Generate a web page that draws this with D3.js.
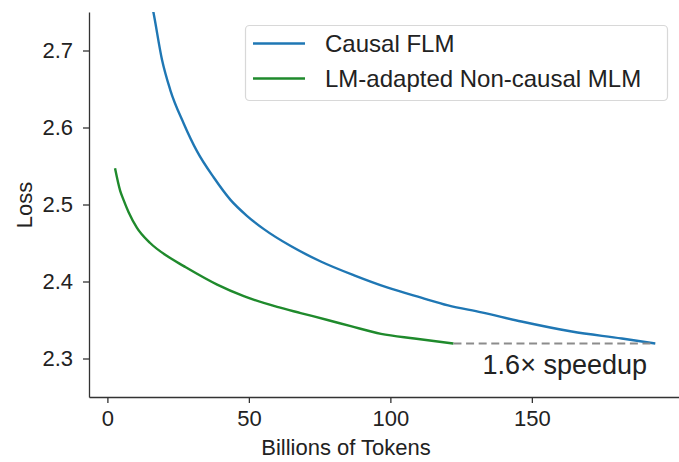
<!DOCTYPE html>
<html>
<head>
<meta charset="utf-8">
<script src="https://cdn.jsdelivr.net/npm/d3@7"></script>
<style>
  body { margin: 0; background: #fff; }
  svg { display: block; font-family: "Liberation Sans", Arial, sans-serif; }
</style>
</head>
<body>
<div id="chart"></div>
<script>
// Values (billions of tokens, loss)
const causalTokens = [15.6, 16.3, 19.3, 22.2, 27.0, 31.7, 37.6, 43.5, 49.4, 55.3, 64.8, 75.4, 87.2, 99.1, 110.9, 120.4, 132.2, 146.3, 164.1, 181.8, 193.6];
const causalLoss   = [2.762, 2.749, 2.688, 2.649, 2.605, 2.569, 2.535, 2.506, 2.485, 2.468, 2.446, 2.426, 2.408, 2.392, 2.379, 2.369, 2.360, 2.348, 2.335, 2.326, 2.3195];

const mlmTokens = [2.7, 4.5, 5.7, 7.5, 10.4, 15.1, 21.1, 27.0, 38.8, 48.2, 60.0, 68.3, 77.8, 86.0, 96.7, 108.5, 122.3];
const mlmLoss   = [2.547, 2.518, 2.506, 2.490, 2.470, 2.450, 2.433, 2.420, 2.396, 2.381, 2.367, 2.359, 2.350, 2.342, 2.332, 2.326, 2.3195];

const seriesNames = ["Causal FLM", "LM-adapted Non-causal MLM"];
const seriesColors = ["#1f77b4", "#1f8a2c"];

const xTicks = [0, 50, 100, 150];
const yTicks = [2.3, 2.4, 2.5, 2.6, 2.7];

// speedup annotation: dashed line between the two curve ends
const speedupTokens = [122.3, 193.6];
const speedupLoss = 2.3195;
const speedupLabel = "1.6\u00d7 speedup";

const width = 679, height = 462;
const marginLeft = 89, marginTop = 12, marginBottom = 65;

const series = [
    causalTokens.map((t, i) => ({ x: t, y: causalLoss[i] })),
    mlmTokens.map((t, i) => ({ x: t, y: mlmLoss[i] }))
];

const x = d3.scaleLinear([-6.5, 202], [marginLeft, width]);
const y = d3.scaleLinear([2.25, 2.75], [height - marginBottom, marginTop]);

const svg = d3.create("svg")
    .attr("width", width)
    .attr("height", height)
    .attr("viewBox", [0, 0, width, height]);

svg.append("clipPath")
    .attr("id", "plot-clip")
  .append("rect")
    .attr("x", marginLeft)
    .attr("y", marginTop)
    .attr("width", width - marginLeft)
    .attr("height", height - marginBottom - marginTop);

// axes
svg.append("g")
    .attr("transform", `translate(0,${height - marginBottom})`)
    .call(d3.axisBottom(x).tickValues(xTicks).tickSize(6).tickPadding(7).tickSizeOuter(0))
    .call(g => g.selectAll("line, path").attr("stroke", "#333").attr("stroke-width", 1.3))
    .call(g => g.selectAll("text").attr("font-size", 22).attr("fill", "#222").attr("font-family", null));

svg.append("g")
    .attr("transform", `translate(${marginLeft},0)`)
    .call(d3.axisLeft(y).tickValues(yTicks).tickFormat(d3.format(".1f")).tickSize(6).tickPadding(10).tickSizeOuter(0))
    .call(g => g.selectAll("line, path").attr("stroke", "#333").attr("stroke-width", 1.3))
    .call(g => g.selectAll("text").attr("font-size", 22).attr("fill", "#222").attr("font-family", null));

svg.append("text")
    .attr("x", 346)
    .attr("y", 455)
    .attr("text-anchor", "middle")
    .attr("font-size", 22)
    .attr("fill", "#222")
    .text("Billions of Tokens");

svg.append("text")
    .attr("transform", `translate(32,205) rotate(-90)`)
    .attr("text-anchor", "middle")
    .attr("font-size", 22)
    .attr("fill", "#222")
    .text("Loss");

// curves
const line = d3.line()
    .x(d => x(d.x))
    .y(d => y(d.y))
    .curve(d3.curveMonotoneX);

svg.append("g")
    .attr("clip-path", "url(#plot-clip)")
    .attr("fill", "none")
    .attr("stroke-width", 2.4)
    .attr("stroke-linejoin", "round")
  .selectAll("path")
  .data(series)
  .join("path")
    .attr("stroke", (d, i) => seriesColors[i])
    .attr("d", line);

// speedup annotation
svg.append("line")
    .attr("x1", x(speedupTokens[0]))
    .attr("x2", x(speedupTokens[1]))
    .attr("y1", y(speedupLoss))
    .attr("y2", y(speedupLoss))
    .attr("stroke", "#8c8c8c")
    .attr("stroke-width", 2.2)
    .attr("stroke-dasharray", "8,4.6");

svg.append("text")
    .attr("x", 647)
    .attr("y", 374)
    .attr("text-anchor", "end")
    .attr("font-size", 27)
    .attr("fill", "#222")
    .text(speedupLabel);

// legend
const legend = svg.append("g");

legend.append("rect")
    .attr("x", 245.5)
    .attr("y", 25.5)
    .attr("width", 422)
    .attr("height", 75)
    .attr("rx", 4)
    .attr("fill", "#fff")
    .attr("stroke", "#d8d8d8")
    .attr("stroke-width", 1.2);

const item = legend.selectAll("g.item")
  .data(seriesNames)
  .join("g")
    .attr("class", "item")
    .attr("transform", (d, i) => `translate(0,${43.5 + i * 35})`);

item.append("line")
    .attr("x1", 253)
    .attr("x2", 305)
    .attr("stroke", (d, i) => seriesColors[i])
    .attr("stroke-width", 2.4);

item.append("text")
    .attr("x", 325)
    .attr("dy", "0.35em")
    .attr("font-size", 24)
    .attr("fill", "#222")
    .text(d => d);

d3.select("#chart").append(() => svg.node());
</script>
</body>
</html>
